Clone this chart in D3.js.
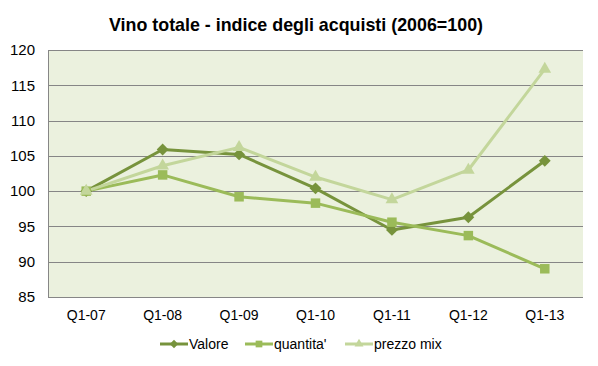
<!DOCTYPE html>
<html><head><meta charset="utf-8">
<script src="https://cdn.jsdelivr.net/npm/d3@7"></script>
<style>body{margin:0;background:#fff}svg{display:block}</style>
</head><body><svg id="c" width="598" height="366"></svg>
<script>
const categories = ["Q1-07","Q1-08","Q1-09","Q1-10","Q1-11","Q1-12","Q1-13"];
const valore   = [100, 105.9, 105.2, 100.4, 94.5, 96.3, 104.3];
const quantita = [100, 102.3, 99.2, 98.3, 95.6, 93.7, 89.0];
const prezzo   = [100, 103.6, 106.2, 102.0, 98.8, 103.0, 117.3];
const yTicks = [85,90,95,100,105,110,115,120];
const seriesNames = ["Valore","quantita'","prezzo mix"];
const title = "Vino totale  - indice degli acquisti (2006=100)";

const diamond = {draw(ctx,size){const r=Math.sqrt(size/2);ctx.moveTo(0,-r);ctx.lineTo(r,0);ctx.lineTo(0,r);ctx.lineTo(-r,0);ctx.closePath();}};
const series = [
  {name: seriesNames[0], values: valore, color: "#77933C", sym: diamond, size: 70},
  {name: seriesNames[1], values: quantita, color: "#9BBB59", sym: d3.symbolSquare, size: 90},
  {name: seriesNames[2], values: prezzo, color: "#C3D69B", sym: d3.symbolTriangle, size: 70}
];
const svg = d3.select("#c");
const L=48,R=583,T=50,B=297;
const x = d3.scaleBand().domain(categories).range([L,R]);
const y = d3.scaleLinear().domain([85,120]).range([B,T]);
const font = "'Liberation Sans', Arial, sans-serif";

svg.append("rect").attr("x",L).attr("y",T).attr("width",R-L).attr("height",B-T).attr("fill","#EBF1DE");
svg.append("g").selectAll("line").data(yTicks).join("line")
  .attr("x1",L).attr("x2",R).attr("y1",d=>Math.round(y(d))+0.5).attr("y2",d=>Math.round(y(d))+0.5)
  .attr("stroke","#868686").attr("stroke-width",1);
svg.append("line").attr("x1",L+0.5).attr("x2",L+0.5).attr("y1",T).attr("y2",B).attr("stroke","#868686");

const ya = svg.append("g").attr("transform",`translate(${L},0)`).call(d3.axisLeft(y).tickValues(yTicks).tickSize(0).tickPadding(13));
ya.select(".domain").remove();
ya.selectAll("text").attr("font-family",font).attr("font-size",15).attr("fill","#000");
const xa = svg.append("g").attr("transform",`translate(0,${B})`).call(d3.axisBottom(x).tickSize(0).tickPadding(13));
xa.select(".domain").remove();
xa.selectAll("text").attr("font-family",font).attr("font-size",14).attr("fill","#000");

const line = d3.line().x((d,i)=>x(categories[i])+x.bandwidth()/2).y(d=>y(d));
series.forEach(s=>{
  svg.append("path").datum(s.values).attr("d",line).attr("fill","none").attr("stroke",s.color).attr("stroke-width",3).attr("stroke-linejoin","round");
});
series.forEach(s=>{
  svg.append("g").selectAll("path").data(s.values).join("path")
    .attr("transform",(d,i)=>`translate(${x(categories[i])+x.bandwidth()/2},${y(d)})`)
    .attr("d",d3.symbol(s.sym,s.size)).attr("fill",s.color);
});

svg.append("text").attr("x",296).attr("y",31).attr("text-anchor","middle")
  .attr("font-family","'Liberation Sans Narrow', 'Arial Narrow', sans-serif").attr("font-weight","bold")
  .attr("font-size",19).attr("fill","#000")
  .attr("textLength",374).attr("lengthAdjust","spacingAndGlyphs").text(title);

const legX=[160,245,345];
series.forEach((s,i)=>{
  const g = svg.append("g").attr("transform",`translate(${legX[i]},344)`);
  g.append("line").attr("x1",0).attr("x2",28).attr("stroke",s.color).attr("stroke-width",3);
  g.append("path").attr("transform","translate(14,0)").attr("d",d3.symbol(s.sym,s.size*0.5)).attr("fill",s.color);
  g.append("text").attr("x",29).attr("y",5).attr("font-family",font).attr("font-size",14).attr("fill","#000").text(s.name);
});
</script></body></html>
